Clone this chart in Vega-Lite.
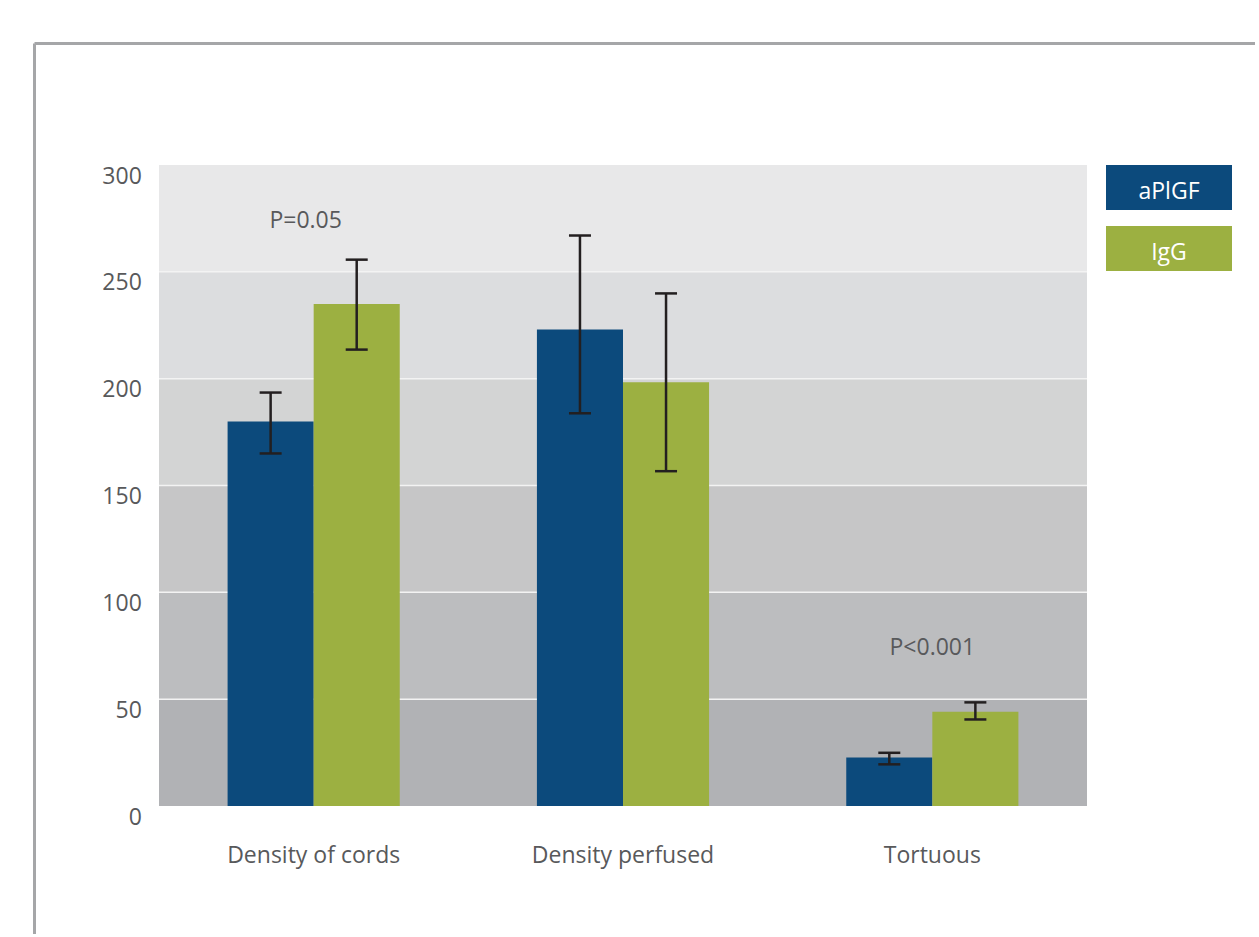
{
  "$schema": "https://vega.github.io/schema/vega-lite/v6.json",
  "background": "white",
  "padding": {"left": 32, "top": 42, "right": 0, "bottom": 0},
  "autosize": {"type": "pad"},
  "bounds": "flush",
  "spacing": 19,
  "config": {
    "font": "Open Sans",
    "view": {"stroke": null},
    "axis": {"grid": false, "domain": false, "ticks": false, "tickSize": 0, "labelFont": "Open Sans", "labelFontSize": 23, "labelColor": "#58595b", "labelLimit": 0},
    "axisY": {"labelPadding": 17.7, "labelBaseline": "alphabetic", "labelOffset": 18},
    "axisX": {"labelPadding": 56, "labelBaseline": "alphabetic", "labelAngle": 0}
  },
  "datasets": {
    "bars": [
      {"category": "Density of cords", "series": "aPlGF", "value": 180, "lo": 165, "hi": 193.5},
      {"category": "Density of cords", "series": "IgG", "value": 235, "lo": 213.6, "hi": 255.7},
      {"category": "Density perfused", "series": "aPlGF", "value": 223, "lo": 183.8, "hi": 267},
      {"category": "Density perfused", "series": "IgG", "value": 198.3, "lo": 156.7, "hi": 239.9},
      {"category": "Tortuous", "series": "aPlGF", "value": 22.7, "lo": 19.5, "hi": 24.9},
      {"category": "Tortuous", "series": "IgG", "value": 44.1, "lo": 40.5, "hi": 48.5}
    ],
    "bands": [
      {"band": "b0", "lo": 0, "hi": 50},
      {"band": "b1", "lo": 50, "hi": 100},
      {"band": "b2", "lo": 100, "hi": 150},
      {"band": "b3", "lo": 150, "hi": 200},
      {"band": "b4", "lo": 200, "hi": 250},
      {"band": "b5", "lo": 250, "hi": 300}
    ],
    "grid": [{"value": 50}, {"value": 100}, {"value": 150}, {"value": 200}, {"value": 250}],
    "notes": [
      {"category": "Density of cords", "value": 270.7, "label": "P=0.05"},
      {"category": "Tortuous", "value": 70.6, "label": "P<0.001"}
    ],
    "frame": [
      {"x0": 0, "x1": 1, "y0": 1, "y1": 1},
      {"x0": 0, "x1": 0, "y0": 0, "y1": 1}
    ],
    "legend": [{"series": "aPlGF"}, {"series": "IgG"}]
  },
  "resolve": {"scale": {"x": "independent", "y": "independent", "color": "independent"}},
  "hconcat": [
    {
      "width": 928,
      "height": 641,
      "resolve": {"scale": {"x": "independent", "y": "independent"}},
      "layer": [
        {
          "layer": [
            {
              "data": {"name": "bands"},
              "mark": {"type": "rect"},
              "encoding": {
                "y": {"field": "lo", "type": "quantitative", "title": null, "scale": {"domain": [0, 300], "nice": false}},
                "y2": {"field": "hi"},
                "color": {"field": "band", "type": "nominal", "legend": null,
                  "scale": {"domain": ["aPlGF", "IgG", "b0", "b1", "b2", "b3", "b4", "b5"],
                            "range": ["#0c4a7c", "#9cb041", "#b1b2b5", "#bcbdbf", "#c6c6c7", "#d3d4d4", "#dcdddf", "#e8e8e9"]}}
              }
            },
            {
              "data": {"name": "grid"},
              "mark": {"type": "rule", "color": "#f3f3f3", "strokeWidth": 1.5},
              "encoding": {
                "y": {"field": "value", "type": "quantitative", "title": null}
              }
            },
            {
              "data": {"name": "bars"},
              "mark": {"type": "bar"},
              "encoding": {
                "x": {"field": "category", "type": "nominal", "sort": null, "title": null,
                  "scale": {"paddingInner": 0.4435, "paddingOuter": 0.22175}},
                "xOffset": {"field": "series", "type": "nominal", "sort": null,
                  "scale": {"paddingInner": 0, "paddingOuter": 0}},
                "y": {"field": "value", "type": "quantitative", "title": null,
                  "axis": {"values": [0, 50, 100, 150, 200, 250, 300]}},
                "color": {"field": "series", "type": "nominal", "legend": null,
                  "scale": {"domain": ["aPlGF", "IgG", "b0", "b1", "b2", "b3", "b4", "b5"],
                            "range": ["#0c4a7c", "#9cb041", "#b1b2b5", "#bcbdbf", "#c6c6c7", "#d3d4d4", "#dcdddf", "#e8e8e9"]}}
              }
            },
            {
              "data": {"name": "bars"},
              "mark": {"type": "rule", "color": "#231f20", "strokeWidth": 2.5},
              "encoding": {
                "x": {"field": "category", "type": "nominal", "sort": null, "title": null},
                "xOffset": {"field": "series", "type": "nominal", "sort": null},
                "y": {"field": "lo", "type": "quantitative", "title": null},
                "y2": {"field": "hi"}
              }
            },
            {
              "data": {"name": "bars"},
              "mark": {"type": "tick", "color": "#231f20", "size": 22, "thickness": 2.5, "opacity": 1},
              "encoding": {
                "x": {"field": "category", "type": "nominal", "sort": null, "title": null},
                "xOffset": {"field": "series", "type": "nominal", "sort": null},
                "y": {"field": "lo", "type": "quantitative", "title": null}
              }
            },
            {
              "data": {"name": "bars"},
              "mark": {"type": "tick", "color": "#231f20", "size": 22, "thickness": 2.5, "opacity": 1},
              "encoding": {
                "x": {"field": "category", "type": "nominal", "sort": null, "title": null},
                "xOffset": {"field": "series", "type": "nominal", "sort": null},
                "y": {"field": "hi", "type": "quantitative", "title": null}
              }
            },
            {
              "data": {"name": "notes"},
              "transform": [{"filter": "datum.label == 'P=0.05'"}],
              "mark": {"type": "text", "fontSize": 23, "fill": "#58595b", "baseline": "alphabetic", "align": "center", "font": "Open Sans", "dx": -8},
              "encoding": {
                "x": {"field": "category", "type": "nominal", "sort": null, "title": null},
                "y": {"field": "value", "type": "quantitative", "title": null},
                "text": {"field": "label"}
              }
            },
            {
              "data": {"name": "notes"},
              "transform": [{"filter": "datum.label != 'P=0.05'"}],
              "mark": {"type": "text", "fontSize": 23, "fill": "#58595b", "baseline": "alphabetic", "align": "center", "font": "Open Sans"},
              "encoding": {
                "x": {"field": "category", "type": "nominal", "sort": null, "title": null},
                "y": {"field": "value", "type": "quantitative", "title": null},
                "text": {"field": "label"}
              }
            }
          ]
        },
        {
          "data": {"name": "frame"},
          "mark": {"type": "rule", "color": "#a5a6a8", "strokeWidth": 3, "clip": false},
          "encoding": {
            "x": {"field": "x0", "type": "quantitative", "axis": null, "scale": {"domain": [0.10201, 0.86235], "nice": false, "zero": false}},
            "x2": {"field": "x1"},
            "y": {"field": "y0", "type": "quantitative", "axis": null, "scale": {"domain": [0.14374, 0.86356], "nice": false, "zero": false}},
            "y2": {"field": "y1"}
          }
        }
      ]
    },
    {
      "width": 126,
      "height": 106,
      "data": {"name": "legend"},
      "layer": [
        {
          "mark": {"type": "rect"},
          "encoding": {
            "y": {"field": "series", "type": "nominal", "sort": null, "axis": null,
              "scale": {"paddingInner": 0.262, "paddingOuter": 0}},
            "color": {"field": "series", "type": "nominal", "legend": null,
              "scale": {"domain": ["aPlGF", "IgG"], "range": ["#0c4a7c", "#9cb041"]}}
          }
        },
        {
          "mark": {"type": "text", "fill": "white", "fontSize": 23, "dy": 4.5, "font": "Open Sans", "align": "center", "baseline": "middle"},
          "encoding": {
            "y": {"field": "series", "type": "nominal", "sort": null, "axis": null},
            "text": {"field": "series"}
          }
        }
      ]
    }
  ]
}
